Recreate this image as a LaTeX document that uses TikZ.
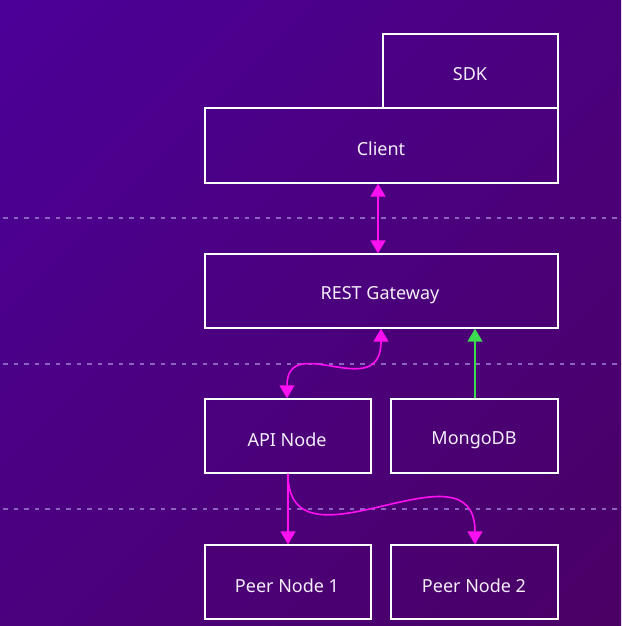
\documentclass[tikz,border=0pt]{standalone}
\usepackage{fontspec}
\setmainfont{Noto Sans}
\usetikzlibrary{arrows.meta,shadings}
\definecolor{bgA}{HTML}{4C0098}
\definecolor{bgB}{HTML}{4A0064}
\definecolor{bgC}{HTML}{4B007E}
\definecolor{sep}{HTML}{8E62C0}
\definecolor{mag}{HTML}{FF10F0}
\definecolor{grn}{HTML}{3CDC50}
\definecolor{txt}{HTML}{F4EEFA}
\tikzset{
  box/.style={draw=white, line width=1.4pt, inner sep=0pt, font=\fontsize{18}{20}\selectfont, text=txt},
  lbl/.style={text=txt, font=\fontsize{18}{20}\selectfont},
  sepline/.style={draw=sep, dash pattern=on 4.5pt off 6pt, dash phase=-3pt, line width=1.5pt},
  tipm/.style={-{Triangle[length=13pt,width=15pt]}, draw=mag, line width=1.6pt},
  biarrow/.style={{Triangle[length=13pt,width=15pt]}-{Triangle[length=13pt,width=15pt]}, draw=mag, line width=1.6pt},
  tipg/.style={-{Triangle[length=13pt,width=15pt]}, draw=grn, line width=1.6pt},
}
\begin{document}
\begin{tikzpicture}[x=1pt,y=-1pt]
\useasboundingbox (0,0) rectangle (621,626);
\shade[upper left=bgA, lower right=bgB, upper right=bgC, lower left=bgC] (0,0) rectangle (621,626);
% separators
\coordinate (s1a) at (0,218); \coordinate (s1b) at (621,218);
\coordinate (s2a) at (0,364); \coordinate (s2b) at (621,364);
\coordinate (s3a) at (0,509); \coordinate (s3b) at (621,509);
\draw[sepline] (s1a) -- (s1b);
\draw[sepline] (s2a) -- (s2b);
\draw[sepline] (s3a) -- (s3b);
% boxes
\node[box, minimum width=175pt, minimum height=74pt] (sdk) at (470.5,71) {};
\node[lbl] (sdklbl) at (470,74) {SDK};
\node[box, minimum width=353pt, minimum height=75pt] (client) at (381.5,145.5) {};
\node[lbl] (clientlbl) at (381,149) {Client};
\node[box, minimum width=353pt, minimum height=74pt] (rest) at (381.5,291) {};
\node[lbl] (restlbl) at (380,295) {REST Gateway};
\node[box, minimum width=166pt, minimum height=74pt] (api) at (288,436) {};
\node[lbl] (apilbl) at (287,440) {API Node};
\node[box, minimum width=167pt, minimum height=74pt] (mongo) at (474.5,436) {};
\node[lbl] (mongolbl) at (474,440) {MongoDB};
\node[box, minimum width=166pt, minimum height=74pt] (p1) at (288,582) {};
\node[lbl] (p1lbl) at (287,586) {Peer Node 1};
\node[box, minimum width=167pt, minimum height=74pt] (p2) at (474.5,582) {};
\node[lbl] (p2lbl) at (474,586) {Peer Node 2};
% x guides
\coordinate (xa) at (378,0);
\coordinate (xb) at (381,0);
\coordinate (xc) at (475,0);
\coordinate (xd) at (287,0);
\coordinate (xe) at (288,0);
% connectors
\draw[biarrow] (client.south -| xa) -- (rest.north -| xa);
\draw[biarrow] (api.north -| xd) .. controls (287,330) and (381,405) .. (rest.south -| xb);
\draw[tipg] (mongo.north -| xc) -- (rest.south -| xc);
\draw[tipm] (api.south -| xe) -- (p1.north -| xe);
\draw[tipm] (api.south -| xe) .. controls (288,580) and (475,435) .. (p2.north -| xc);
\end{tikzpicture}
\end{document}
